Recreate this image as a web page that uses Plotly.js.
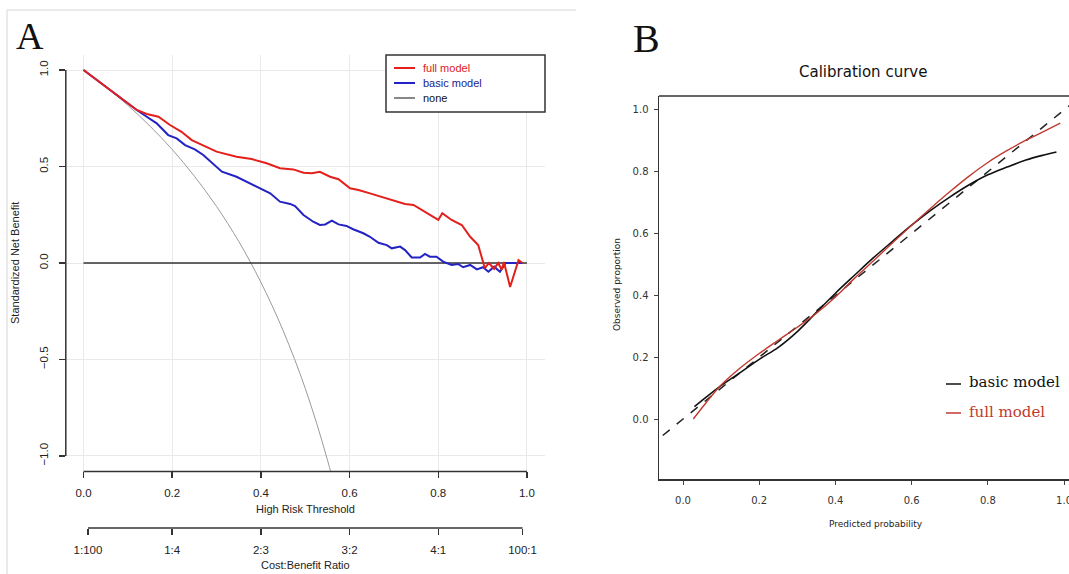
<!DOCTYPE html>
<html>
<head>
<meta charset="utf-8">
<script src="https://cdn.plot.ly/plotly-3.0.1.min.js"></script>
<style>html,body{margin:0;padding:0;background:#fff;}#chart{width:1069px;height:574px;}</style>
</head>
<body>
<div id="chart"></div>
<script>
// ---------- Panel A: decision curve (standardized net benefit) ----------
const thrTicks = [0, 0.2, 0.4, 0.6, 0.8, 1.0];
const thrTickText = ['0.0', '0.2', '0.4', '0.6', '0.8', '1.0'];
const nbTicks = [-1, -0.5, 0, 0.5, 1];
const nbTickText = ['\u22121.0', '\u22120.5', '0.0', '0.5', '1.0'];
const costTicks = [0.01, 0.2, 0.4, 0.6, 0.8, 0.99];
const costTickText = ['1:100', '1:4', '2:3', '3:2', '4:1', '100:1'];

const fullX = [0.0, 0.05, 0.12, 0.1425, 0.169, 0.195, 0.221, 0.244, 0.270, 0.300, 0.345, 0.379, 0.413, 0.443, 0.473, 0.496, 0.515, 0.533, 0.556, 0.575, 0.601, 0.620, 0.646, 0.672, 0.699, 0.725, 0.744, 0.770, 0.800, 0.809, 0.830, 0.853, 0.872, 0.890, 0.905, 0.914, 0.926, 0.935, 0.943, 0.948, 0.962, 0.981, 0.99];
const fullY = [1.0, 0.913, 0.793, 0.772, 0.758, 0.715, 0.680, 0.637, 0.611, 0.577, 0.551, 0.539, 0.517, 0.491, 0.485, 0.468, 0.465, 0.473, 0.447, 0.434, 0.387, 0.378, 0.361, 0.344, 0.323, 0.306, 0.301, 0.266, 0.223, 0.258, 0.223, 0.197, 0.136, 0.093, -0.027, 0.0, -0.03, 0.0, -0.035, 0.005, -0.124, 0.015, 0.0];

const basicX = [0.0, 0.05, 0.12, 0.1425, 0.165, 0.191, 0.21, 0.229, 0.251, 0.270, 0.29, 0.312, 0.345, 0.375, 0.398, 0.421, 0.443, 0.466, 0.477, 0.496, 0.518, 0.533, 0.545, 0.560, 0.575, 0.593, 0.608, 0.631, 0.646, 0.665, 0.684, 0.695, 0.714, 0.725, 0.740, 0.759, 0.770, 0.781, 0.796, 0.811, 0.830, 0.845, 0.856, 0.872, 0.887, 0.901, 0.913, 0.926, 0.939, 0.952, 0.99];
const basicY = [1.0, 0.913, 0.793, 0.758, 0.724, 0.663, 0.646, 0.611, 0.589, 0.560, 0.52, 0.473, 0.447, 0.413, 0.387, 0.361, 0.318, 0.306, 0.295, 0.249, 0.214, 0.197, 0.20, 0.219, 0.20, 0.192, 0.175, 0.154, 0.136, 0.105, 0.093, 0.076, 0.085, 0.067, 0.029, 0.028, 0.047, 0.033, 0.033, 0.007, -0.010, -0.005, -0.022, -0.010, -0.033, -0.022, -0.045, -0.019, -0.045, 0.0, 0.0];

const allX = [0.0, 0.05, 0.1, 0.15, 0.2, 0.25, 0.3, 0.35, 0.4, 0.45, 0.5, 0.55, 0.6];
const allY = [1.0, 0.913, 0.817, 0.709, 0.588, 0.45, 0.293, 0.112, -0.10, -0.35, -0.65, -1.02, -1.47];

const noneX = [0, 1];
const noneY = [0, 0];

// ---------- Panel B: calibration curve ----------
const probTicks = [0, 0.2, 0.4, 0.6, 0.8, 1.0];
const probTickText = ['0.0', '0.2', '0.4', '0.6', '0.8', '1.0'];
const obsTicks = [0, 0.2, 0.4, 0.6, 0.8, 1.0];
const obsTickText = ['0.0', '0.2', '0.4', '0.6', '0.8', '1.0'];
const calBasicX = [0.03, 0.06, 0.1, 0.15, 0.2, 0.25, 0.3, 0.35, 0.4, 0.45, 0.5, 0.55, 0.6, 0.65, 0.7, 0.75, 0.8, 0.85, 0.9, 0.95, 0.98];
const calBasicY = [0.04, 0.07, 0.108, 0.15, 0.193, 0.232, 0.283, 0.345, 0.407, 0.465, 0.522, 0.575, 0.627, 0.675, 0.718, 0.757, 0.79, 0.815, 0.838, 0.855, 0.864];
const calFullX = [0.027, 0.06, 0.1, 0.15, 0.2, 0.25, 0.3, 0.35, 0.4, 0.45, 0.5, 0.55, 0.6, 0.65, 0.7, 0.75, 0.8, 0.85, 0.9, 0.95, 0.99];
const calFullY = [0.0, 0.052, 0.11, 0.165, 0.212, 0.255, 0.297, 0.342, 0.395, 0.455, 0.512, 0.57, 0.627, 0.682, 0.735, 0.785, 0.83, 0.868, 0.902, 0.932, 0.957];
const idealX = [-0.2, 1.2];
const idealY = [-0.2, 1.2];

// ---------- layout helpers (pixel -> paper) ----------
const W = 1069, H = 574;
const PX = p => p / W;
const PY = p => 1 - p / H;

const RED_A = '#e3201c', BLUE_A = '#2323c4', RED_B = '#c0392f';
const sansA = 'Liberation Sans, Arial, sans-serif';
const sansB = 'DejaVu Sans, sans-serif';
const serif = 'Liberation Serif, Times New Roman, serif';

const traces = [
  {x: allX, y: allY, xaxis: 'x', yaxis: 'y', mode: 'lines', name: 'all',
   line: {color: '#9a9a9a', width: 1, shape: 'spline'}, showlegend: false, hoverinfo: 'skip'},
  {x: noneX, y: noneY, xaxis: 'x', yaxis: 'y', mode: 'lines', name: 'none',
   line: {color: '#333333', width: 1.5}},
  {x: basicX, y: basicY, xaxis: 'x', yaxis: 'y', mode: 'lines', name: 'basic model',
   line: {color: BLUE_A, width: 2}},
  {x: fullX, y: fullY, xaxis: 'x', yaxis: 'y', mode: 'lines', name: 'full model',
   line: {color: RED_A, width: 2}},
  {x: costTicks, y: costTicks.map(() => null), xaxis: 'x3', yaxis: 'y', mode: 'lines', showlegend: false, hoverinfo: 'skip'},
  {x: idealX, y: idealY, xaxis: 'x2', yaxis: 'y2', mode: 'lines', name: 'ideal',
   line: {color: '#222', width: 1.5, dash: 'dash'}},
  {x: calBasicX, y: calBasicY, xaxis: 'x2', yaxis: 'y2', mode: 'lines', name: 'basic model',
   line: {color: '#111', width: 1.6, shape: 'spline', smoothing: 1}},
  {x: calFullX, y: calFullY, xaxis: 'x2', yaxis: 'y2', mode: 'lines', name: 'full model',
   line: {color: RED_B, width: 1.4, shape: 'spline', smoothing: 1}}
];

const domAx = [PX(65.8), PX(544.7)];
const domAy = [PY(471.4), PY(54.6)];
const domBx = [PX(659), 1.0];
const domBy = [PY(479), PY(96)];

const layout = {
  width: W, height: H,
  margin: {l: 0, r: 0, t: 0, b: 0, pad: 0},
  paper_bgcolor: '#ffffff', plot_bgcolor: '#ffffff',
  showlegend: false,
  xaxis: {
    domain: domAx, range: [-0.04, 1.04], anchor: 'y', automargin: false,
    tickvals: thrTicks, ticktext: thrTickText,
    showgrid: true, gridcolor: '#e9e9e9', gridwidth: 1, zeroline: false, showline: false,
    ticks: 'outside', ticklen: 6, tickwidth: 1.5, tickcolor: '#333',
    ticklabelstandoff: 5,
    tickfont: {family: sansA, size: 11.5, color: '#222'}
  },
  yaxis: {
    domain: domAy, range: [-1.08, 1.08], anchor: 'x', automargin: false,
    tickvals: nbTicks, ticktext: nbTickText, tickangle: -90,
    showgrid: true, gridcolor: '#e9e9e9', gridwidth: 1, zeroline: false, showline: false,
    ticks: 'outside', ticklen: 6, tickwidth: 1.5, tickcolor: '#333',
    ticklabelstandoff: 6,
    tickfont: {family: sansA, size: 11.5, color: '#222'}
  },
  xaxis3: {
    overlaying: 'x', anchor: 'free', position: PY(528), side: 'bottom',
    range: [-0.04, 1.04], automargin: false,
    tickvals: costTicks, ticktext: costTickText,
    showgrid: false, zeroline: false, showline: false,
    ticks: 'outside', ticklen: 6, tickwidth: 1.5, tickcolor: '#333',
    ticklabelstandoff: 5,
    tickfont: {family: sansA, size: 11.5, color: '#222'}
  },
  xaxis2: {
    domain: domBx, range: [-0.063, 1.013], anchor: 'y2', automargin: false,
    tickvals: probTicks, ticktext: probTickText, ticklabeloverflow: 'allow',
    showgrid: false, zeroline: false, showline: true,
    linecolor: '#333', linewidth: 1.5,
    ticks: 'outside', ticklen: 4, tickwidth: 1, tickcolor: '#444',
    ticklabelstandoff: 7,
    tickfont: {family: sansB, size: 10, color: '#333'}
  },
  yaxis2: {
    domain: domBy, range: [-0.194, 1.045], anchor: 'x2', automargin: false,
    tickvals: obsTicks, ticktext: obsTickText,
    showgrid: false, zeroline: false, showline: true,
    linecolor: '#333', linewidth: 1.5,
    ticks: 'outside', ticklen: 4, tickwidth: 1, tickcolor: '#444',
    ticklabelstandoff: 3,
    tickfont: {family: sansB, size: 10, color: '#333'}
  },
  shapes: [
    // panel A image border
    {type: 'line', xref: 'paper', yref: 'paper', x0: PX(7), x1: PX(576), y0: PY(10), y1: PY(10), line: {color: '#d6d6d6', width: 1}},
    {type: 'line', xref: 'paper', yref: 'paper', x0: PX(7), x1: PX(7), y0: PY(10), y1: 0, line: {color: '#d6d6d6', width: 1}},
    // R-style axis lines for panel A
    {type: 'line', xref: 'x', yref: 'paper', x0: 0, x1: 1, y0: domAy[0], y1: domAy[0], line: {color: '#333', width: 1.5}},
    {type: 'line', xref: 'paper', yref: 'y', x0: domAx[0], x1: domAx[0], y0: -1, y1: 1, line: {color: '#333', width: 1.5}},
    {type: 'line', xref: 'x', yref: 'paper', x0: 0.01, x1: 0.99, y0: PY(528), y1: PY(528), line: {color: '#333', width: 1.5}},
    // top frame line of panel B
    {type: 'line', xref: 'paper', yref: 'paper', x0: domBx[0], x1: 1, y0: domBy[1], y1: domBy[1], line: {color: '#333', width: 1.5}},
    // legend A
    {type: 'rect', xref: 'paper', yref: 'paper', x0: PX(386), x1: PX(545), y0: PY(112), y1: PY(55), line: {color: '#333', width: 1.5}, fillcolor: '#ffffff'},
    {type: 'line', xref: 'paper', yref: 'paper', x0: PX(394), x1: PX(415), y0: PY(68), y1: PY(68), line: {color: RED_A, width: 2}},
    {type: 'line', xref: 'paper', yref: 'paper', x0: PX(394), x1: PX(415), y0: PY(83), y1: PY(83), line: {color: BLUE_A, width: 2}},
    {type: 'line', xref: 'paper', yref: 'paper', x0: PX(394), x1: PX(415), y0: PY(98), y1: PY(98), line: {color: '#111', width: 1}},
    // legend B
    {type: 'line', xref: 'paper', yref: 'paper', x0: PX(946), x1: PX(961), y0: PY(384), y1: PY(384), line: {color: '#111', width: 1.5}},
    {type: 'line', xref: 'paper', yref: 'paper', x0: PX(946), x1: PX(961), y0: PY(413), y1: PY(413), line: {color: RED_B, width: 1.5}}
  ],
  annotations: [
    {text: 'A', xref: 'paper', yref: 'paper', x: PX(30), y: PY(36), xanchor: 'center', yanchor: 'middle', showarrow: false, font: {family: serif, size: 38, color: '#111'}},
    {text: 'B', xref: 'paper', yref: 'paper', x: PX(646), y: PY(38), xanchor: 'center', yanchor: 'middle', showarrow: false, font: {family: serif, size: 40, color: '#111'}},
    {text: 'Calibration curve', xref: 'paper', yref: 'paper', x: PX(863), y: PY(72), xanchor: 'center', yanchor: 'middle', showarrow: false, font: {family: sansB, size: 15, color: '#111'}},
    {text: 'High Risk Threshold', xref: 'paper', yref: 'paper', x: PX(305), y: PY(509), xanchor: 'center', yanchor: 'middle', showarrow: false, font: {family: sansA, size: 11, color: '#222'}},
    {text: 'Cost:Benefit Ratio', xref: 'paper', yref: 'paper', x: PX(305), y: PY(565), xanchor: 'center', yanchor: 'middle', showarrow: false, font: {family: sansA, size: 11, color: '#222'}},
    {text: 'Standardized Net Benefit', xref: 'paper', yref: 'paper', x: PX(15), y: PY(263), xanchor: 'center', yanchor: 'middle', textangle: -90, showarrow: false, font: {family: sansA, size: 11, color: '#222'}},
    {text: 'Predicted probability', xref: 'paper', yref: 'paper', x: PX(876), y: PY(524), xanchor: 'center', yanchor: 'middle', showarrow: false, font: {family: sansB, size: 9, color: '#222'}},
    {text: 'Observed proportion', xref: 'paper', yref: 'paper', x: PX(617), y: PY(285), xanchor: 'center', yanchor: 'middle', textangle: -90, showarrow: false, font: {family: sansB, size: 9, color: '#222'}},
    {text: 'full model', xref: 'paper', yref: 'paper', x: PX(421), y: PY(68), xanchor: 'left', yanchor: 'middle', showarrow: false, font: {family: sansA, size: 11, color: RED_A}},
    {text: 'basic model', xref: 'paper', yref: 'paper', x: PX(421), y: PY(83), xanchor: 'left', yanchor: 'middle', showarrow: false, font: {family: sansA, size: 11, color: '#23238c'}},
    {text: 'none', xref: 'paper', yref: 'paper', x: PX(421), y: PY(98), xanchor: 'left', yanchor: 'middle', showarrow: false, font: {family: sansA, size: 11, color: '#111'}},
    {text: 'basic model', xref: 'paper', yref: 'paper', x: PX(967), y: PY(382), xanchor: 'left', yanchor: 'middle', showarrow: false, font: {family: 'DejaVu Serif, serif', size: 15, color: '#111'}},
    {text: 'full model', xref: 'paper', yref: 'paper', x: PX(967), y: PY(412), xanchor: 'left', yanchor: 'middle', showarrow: false, font: {family: 'DejaVu Serif, serif', size: 15, color: RED_B}}
  ]
};

Plotly.newPlot('chart', traces, layout, {staticPlot: true, displayModeBar: false});
</script>
</body>
</html>
